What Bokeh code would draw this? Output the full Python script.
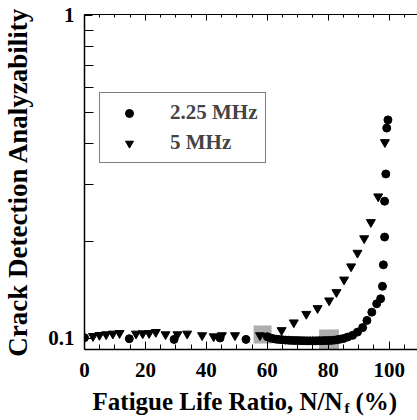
from bokeh.plotting import figure
from bokeh.layouts import column
from bokeh.models import (Range1d, FixedTicker, CustomJSTickFormatter, LinearAxis,
                          Legend, LegendItem, Label, ColumnDataSource)
from bokeh.embed import file_html
from bokeh.resources import INLINE

# ---- data ----
x_225 = [0, 14.7, 29.4, 44.5, 53.0,
         60, 61, 62, 63, 64, 65, 66, 67, 68, 69, 70, 71, 72, 73, 74, 75, 76, 77, 78, 79, 80,
         81, 82, 83, 84, 85,
         86.4, 88.0, 89.6, 91.3, 92.7, 94.3, 95.9, 97.2, 97.8, 98.1, 98.5, 98.5, 98.9, 99.2, 99.6]
y_225 = [0.1005, 0.0998, 0.0993, 0.1003, 0.0993,
         0.1012, 0.1003, 0.0998, 0.0994, 0.0992, 0.0990, 0.0988, 0.0987, 0.0986, 0.0985,
         0.0985, 0.0984, 0.0984, 0.0983, 0.0983, 0.0983, 0.0983, 0.0984, 0.0984, 0.0985,
         0.0985, 0.0986, 0.0988, 0.0991, 0.0995, 0.0999,
         0.1010, 0.1022, 0.1046, 0.1080, 0.1137, 0.1206, 0.1280, 0.1327, 0.145, 0.169,
         0.206, 0.266, 0.323, 0.448, 0.475]

x_5 = [2.8, 4.9, 7.1, 9.3, 11.5, 16.9, 19.1, 21.2, 23.4, 26.6, 30.5, 33.7, 38.6, 42.4,
       45.1, 49.4, 57.6, 64.7, 68.7, 72.8, 76.5, 80.3, 82.7, 85.2, 87.5, 89.6, 91.8, 94.0,
       96.4, 98.6]
y_5 = [0.1016, 0.1024, 0.1029, 0.1034, 0.1038, 0.1034, 0.1036, 0.1038, 0.1046, 0.1029,
       0.1029, 0.1034, 0.1022, 0.1014, 0.1022, 0.1022, 0.1022, 0.1060, 0.1120, 0.1190,
       0.1240, 0.1310, 0.1390, 0.1520, 0.1670, 0.1840, 0.2040, 0.2290, 0.2750, 0.4050]

# gray marked regions
box_left = [55.5, 77.0]
box_right = [61.4, 83.5]
box_bottom = [0.0965, 0.0925]
box_top = [0.1097, 0.1066]

x_ticks = [0, 20, 40, 60, 80, 100]
x_minor = [5, 10, 15, 25, 30, 35, 45, 50, 55, 65, 70, 75, 85, 90, 95, 105]
y_ticks = [0.1, 1]
y_minor = [0.2, 0.3, 0.4, 0.5, 0.6, 0.7, 0.8, 0.9]

series_names = ["2.25 MHz", "5 MHz"]
x_label_main = "Fatigue Life Ratio, N/N"
x_label_sub = "f"
x_label_tail = "(%)"
y_label = "Crack Detection Analyzability"

FONT = "Liberation Serif"

p = figure(width=417, height=388, y_axis_type="log",
           x_range=Range1d(0, 109.3), y_range=Range1d(0.0924, 1.007),
           output_backend="svg", toolbar_location=None,
           min_border_left=82, min_border_right=0, min_border_top=14, min_border_bottom=39)
p.grid.visible = False
p.outline_line_color = None
p.background_fill_color = "white"
p.border_fill_color = "white"

p.quad(left=box_left, right=box_right, bottom=box_bottom, top=box_top,
       fill_color="#a0a0a0", fill_alpha=0.85, line_color=None)

src1 = ColumnDataSource(dict(x=x_225, y=y_225))
src2 = ColumnDataSource(dict(x=x_5, y=y_5))
r1 = p.scatter("x", "y", source=src1, marker="circle", size=8, color="black")
r2 = p.scatter("x", "y", source=src2, marker="inverted_triangle", size=9, color="black")

# axes
xa = p.xaxis[0]
xa.ticker = FixedTicker(ticks=x_ticks, minor_ticks=x_minor)
ya = p.yaxis[0]
ya.ticker = FixedTicker(ticks=y_ticks, minor_ticks=y_minor)
ya.formatter = CustomJSTickFormatter(code="return String(tick);")
ya.axis_label = y_label
ya.axis_label_text_font = FONT
ya.axis_label_text_font_style = "bold"
ya.axis_label_text_font_size = "27px"
ya.axis_label_text_color = "black"
ya.axis_label_standoff = 12

for ax in (xa, ya):
    ax.axis_line_width = 1.5
    ax.axis_line_color = "black"
    ax.major_tick_in = 8
    ax.major_tick_out = 0
    ax.minor_tick_in = 5
    ax.minor_tick_out = 0
    ax.major_tick_line_color = "black"
    ax.minor_tick_line_color = "black"
    ax.major_label_text_font = FONT
    ax.major_label_text_font_style = "bold"
    ax.major_label_text_font_size = "21px"
    ax.major_label_text_color = "black"
ya.major_label_standoff = 10
xa.major_label_standoff = 13
ya.minor_tick_in = 9

top = LinearAxis(ticker=FixedTicker(ticks=x_ticks, minor_ticks=x_minor),
                 major_label_text_font_size="0px", major_label_text_alpha=0,
                 axis_line_width=1.2, major_tick_in=6, major_tick_out=0,
                 minor_tick_in=3, minor_tick_out=0, major_label_standoff=0)
p.add_layout(top, "above")

legend = Legend(items=[LegendItem(label=series_names[0], renderers=[r1]),
                       LegendItem(label=series_names[1], renderers=[r2])],
                location=(15, 186), margin=0, padding=7, spacing=5,
                glyph_width=44, glyph_height=20, label_height=20, label_width=88,
                label_standoff=19, border_line_color="black", border_line_width=1,
                label_text_font=FONT, label_text_font_style="bold",
                label_text_font_size="21px", background_fill_alpha=1)
p.add_layout(legend)

# strip below holding the x-axis title (with subscript f); its frame is aligned with p's
q = figure(width=417, height=32, output_backend="svg", toolbar_location=None,
           x_range=Range1d(0, 417), y_range=Range1d(0, 32),
           min_border=0, min_border_left=0, min_border_right=0,
           min_border_top=0, min_border_bottom=0)
q.axis.visible = False
q.grid.visible = False
q.outline_line_color = None
q.border_fill_color = "white"
q.background_fill_color = "white"
q.add_layout(Label(x=258, y=19, x_units="screen", y_units="screen", text=x_label_main,
                   text_align="right", text_baseline="middle", text_font=FONT,
                   text_font_style="bold", text_font_size="25px", text_color="black"))
q.add_layout(Label(x=260, y=13, x_units="screen", y_units="screen", text=x_label_sub,
                   text_align="left", text_baseline="middle", text_font=FONT,
                   text_font_style="bold", text_font_size="15px", text_color="black"))
q.add_layout(Label(x=271, y=19, x_units="screen", y_units="screen", text=x_label_tail,
                   text_align="left", text_baseline="middle", text_font=FONT,
                   text_font_style="bold", text_font_size="25px", text_color="black"))

layout = column(p, q, spacing=0)
open("out.html", "w").write(file_html(layout, INLINE))
